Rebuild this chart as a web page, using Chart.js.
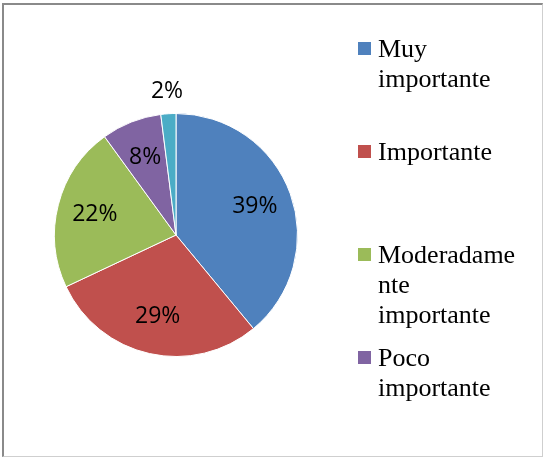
<!DOCTYPE html>
<html>
<head>
<meta charset="utf-8">
<script src="https://cdn.jsdelivr.net/npm/chart.js@4/dist/chart.umd.min.js"></script>
<style>
  html, body { margin: 0; padding: 0; background: #fff; }
  #wrap { position: relative; width: 545px; height: 459px; overflow: hidden; }
  #frame {
    position: absolute; left: 2px; top: 3px; width: 541px; height: 454px;
    border-left: 2px solid #8a8a8a; border-top: 2px solid #8a8a8a;
    border-right: 1px solid #cfcfcf; border-bottom: 1px solid #cfcfcf;
    box-sizing: border-box;
  }
  canvas { position: absolute; left: 0; top: 0; }
  #legend { position: absolute; left: 358px; top: 0; width: 185px; height: 440px; overflow: hidden; }
  .item { position: absolute; left: 0; }
  .box { position: absolute; left: 0; top: 8px; width: 13px; height: 13px; }
  .txt {
    position: absolute; left: 20px; top: 0; width: 143px;
    font-family: "Liberation Serif", "Times New Roman", serif; font-size: 26px;
    line-height: 30px; color: #000; overflow-wrap: anywhere;
  }
</style>
</head>
<body>
<div id="wrap">
  <div id="frame"></div>
  <canvas id="pieChart" width="545" height="459"></canvas>
  <div id="legend"></div>
</div>
<script>
const categories = ['Muy importante', 'Importante', 'Moderadamente importante', 'Poco importante', 'Nada importante'];
const values = [39, 29, 22, 8, 2];
const colors = ['#4F81BD', '#C0504D', '#9BBB59', '#8064A2', '#4BACC6'];

// percent labels, inside the slice or just outside for small ones
const sliceLabels = {
    id: 'sliceLabels',
    afterDatasetsDraw(chart) {
        const ctx = chart.ctx;
        const meta = chart.getDatasetMeta(0);
        const data = chart.data.datasets[0].data;
        const total = data.reduce((a, b) => a + b, 0);
        ctx.save();
        ctx.font = '23px "Open Sans", sans-serif';
        ctx.fillStyle = '#000';
        ctx.textAlign = 'center';
        ctx.textBaseline = 'middle';
        meta.data.forEach((arc, i) => {
            const p = arc.getProps(['x', 'y', 'startAngle', 'endAngle', 'outerRadius'], true);
            const mid = (p.startAngle + p.endAngle) / 2;
            const share = data[i] / total;
            const f = share < 0.05 ? 1.18 : 0.69;
            const tx = p.x + Math.cos(mid) * p.outerRadius * f;
            const ty = p.y + Math.sin(mid) * p.outerRadius * f;
            ctx.fillText(Math.round(share * 100) + '%', tx, ty);
        });
        ctx.restore();
    }
};

const ctx = document.getElementById('pieChart').getContext('2d');
const pieChart = new Chart(ctx, {
    type: 'pie',
    data: {
        labels: categories,
        datasets: [{
            data: values,
            backgroundColor: colors,
            borderColor: '#fff',
            borderWidth: 1
        }]
    },
    options: {
        responsive: false,
        animation: false,
        layout: { padding: { left: 54, right: 247, top: 113, bottom: 102 } },
        plugins: {
            legend: { display: false },
            tooltip: { enabled: false }
        }
    },
    plugins: [sliceLabels]
});

// html legend, entries at even steps like the original (last one falls off the frame)
const legendEl = document.getElementById('legend');
const items = Chart.overrides.pie.plugins.legend.labels.generateLabels(pieChart);
items.forEach((it, i) => {
    const div = document.createElement('div');
    div.className = 'item';
    div.style.top = (34 + i * 103.1) + 'px';
    const box = document.createElement('div');
    box.className = 'box';
    box.style.background = it.fillStyle;
    const txt = document.createElement('div');
    txt.className = 'txt';
    txt.textContent = it.text;
    div.appendChild(box);
    div.appendChild(txt);
    legendEl.appendChild(div);
});
</script>
</body>
</html>
